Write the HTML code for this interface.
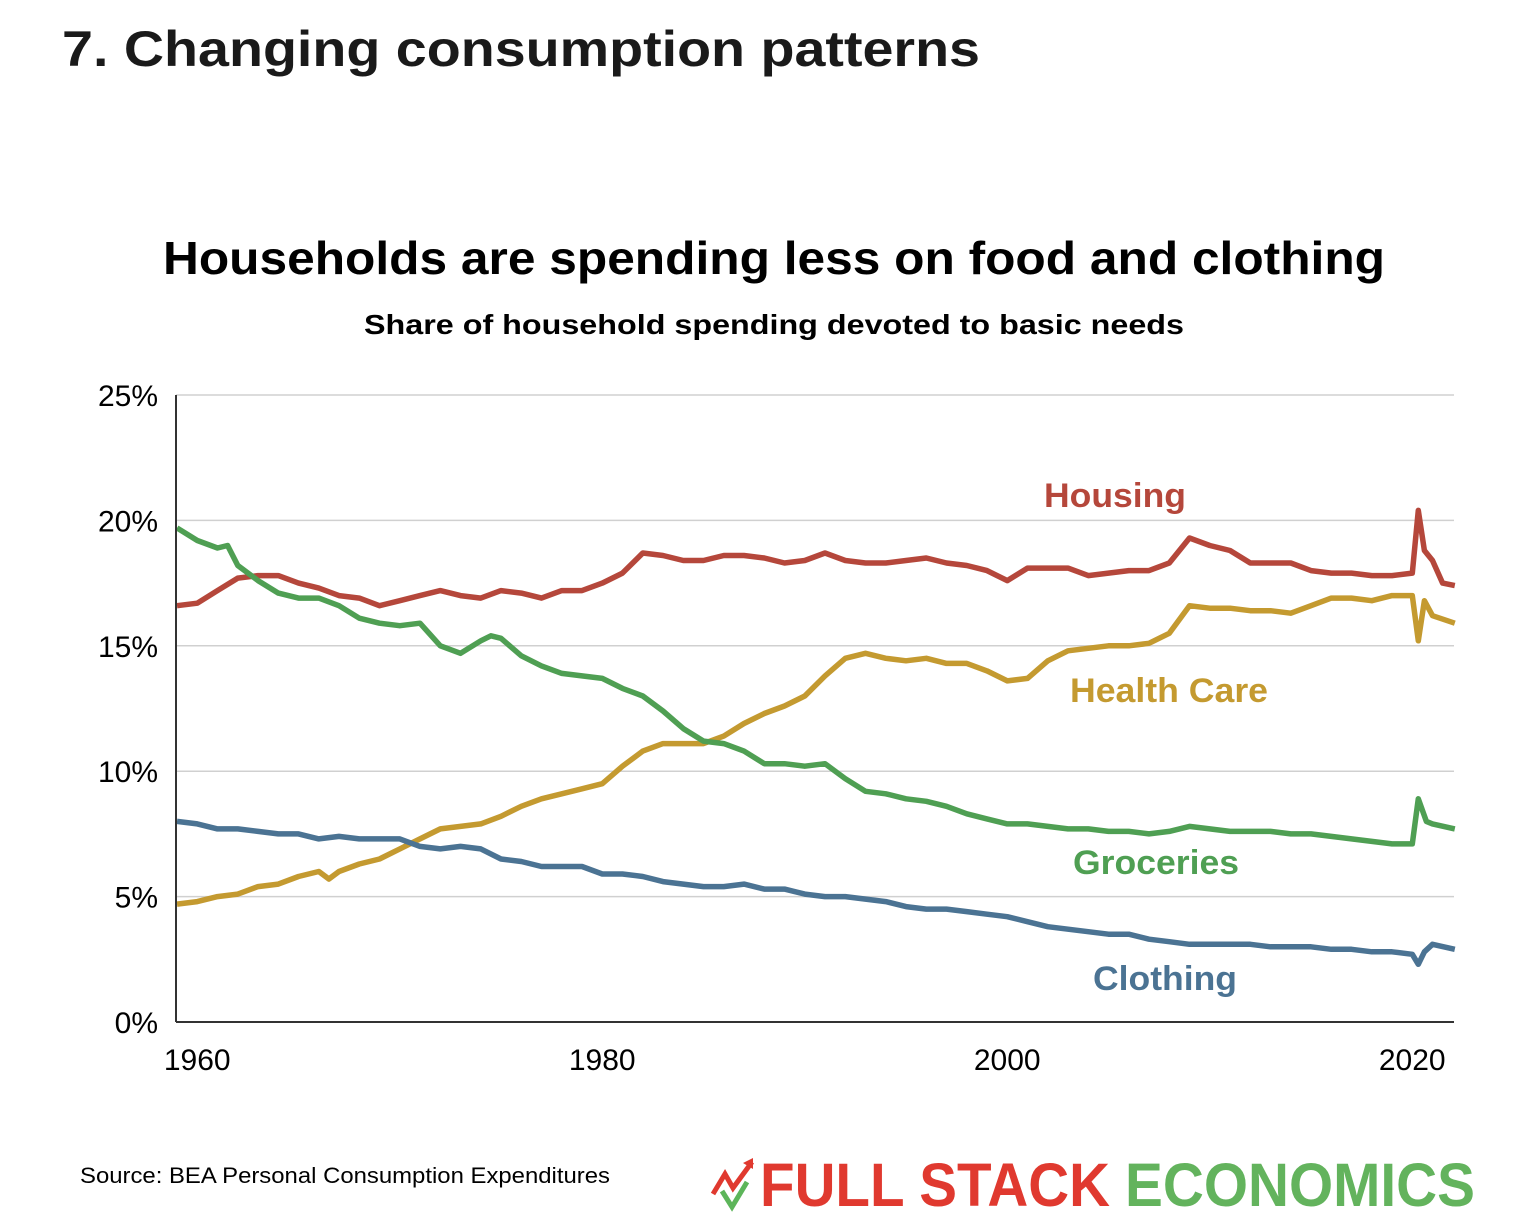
<!DOCTYPE html>
<html><head><meta charset="utf-8"><style>
html,body{margin:0;padding:0;background:#fff;}
svg{display:block;}
</style></head><body>
<svg id="chart" width="1524" height="1232" viewBox="0 0 1524 1232" xmlns="http://www.w3.org/2000/svg" font-family="Liberation Sans, sans-serif">
<text x="62" y="66" font-size="50" font-weight="bold" fill="#1a1a1a" textLength="918" lengthAdjust="spacingAndGlyphs">7. Changing consumption patterns</text>
<text x="774" y="274" text-anchor="middle" font-size="46" font-weight="bold" fill="#000" textLength="1222" lengthAdjust="spacingAndGlyphs">Households are spending less on food and clothing</text>
<text x="774" y="334" text-anchor="middle" font-size="28" font-weight="bold" fill="#000" textLength="820" lengthAdjust="spacingAndGlyphs">Share of household spending devoted to basic needs</text>
<g id="grid"></g>
<g id="yticks"></g>
<g id="xticks"></g>
<g id="lines"></g>
<line x1="176" y1="395" x2="176" y2="1022" stroke="#333" stroke-width="2"/>
<line x1="176" y1="1022" x2="1454" y2="1022" stroke="#333" stroke-width="2"/>
<text x="1115" y="507" text-anchor="middle" font-size="34" font-weight="bold" fill="#b5473b" textLength="142" lengthAdjust="spacingAndGlyphs">Housing</text>
<text x="1169" y="702" text-anchor="middle" font-size="34" font-weight="bold" fill="#c49a30" textLength="198" lengthAdjust="spacingAndGlyphs">Health Care</text>
<text x="1156" y="874" text-anchor="middle" font-size="34" font-weight="bold" fill="#4f9f53" textLength="166" lengthAdjust="spacingAndGlyphs">Groceries</text>
<text x="1165" y="990" text-anchor="middle" font-size="34" font-weight="bold" fill="#4b7393" textLength="144" lengthAdjust="spacingAndGlyphs">Clothing</text>
<text x="80" y="1183" font-size="22" fill="#000" textLength="530" lengthAdjust="spacingAndGlyphs">Source: BEA Personal Consumption Expenditures</text>
<g>
<polyline points="713,1194 725,1174 733,1188 752,1162" fill="none" stroke="#e0392f" stroke-width="5"/>
<polygon points="743,1163 753,1158 753,1169" fill="#e0392f"/>
<polyline points="722,1191 732,1207 747,1182" fill="none" stroke="#5db55a" stroke-width="5"/>
<text x="760" y="1206" font-size="61" font-weight="bold" fill="#e0392f" textLength="350" lengthAdjust="spacingAndGlyphs">FULL STACK</text>
<text x="1125" y="1206" font-size="61" font-weight="bold" fill="#63b35d" textLength="350" lengthAdjust="spacingAndGlyphs">ECONOMICS</text>
</g>
</svg>
<script>
const yTickValues = [0, 5, 10, 15, 20, 25];
const yTickLabels = ["0%", "5%", "10%", "15%", "20%", "25%"];
const xTickValues = [1960, 1980, 2000, 2020];
const xTickLabels = ["1960", "1980", "2000", "2020"];

const housingYears = [1959,1960,1961,1962,1963,1964,1965,1966,1967,1968,1969,1970,1971,1972,1973,1974,1975,1976,1977,1978,1979,1980,1981,1982,1983,1984,1985,1986,1987,1988,1989,1990,1991,1992,1993,1994,1995,1996,1997,1998,1999,2000,2001,2002,2003,2004,2005,2006,2007,2008,2009,2010,2011,2012,2013,2014,2015,2016,2017,2018,2019,2020,2020.3,2020.6,2021,2021.5,2022.1];
const housingValues = [16.6,16.7,17.2,17.7,17.8,17.8,17.5,17.3,17.0,16.9,16.6,16.8,17.0,17.2,17.0,16.9,17.2,17.1,16.9,17.2,17.2,17.5,17.9,18.7,18.6,18.4,18.4,18.6,18.6,18.5,18.3,18.4,18.7,18.4,18.3,18.3,18.4,18.5,18.3,18.2,18.0,17.6,18.1,18.1,18.1,17.8,17.9,18.0,18.0,18.3,19.3,19.0,18.8,18.3,18.3,18.3,18.0,17.9,17.9,17.8,17.8,17.9,20.4,18.8,18.4,17.5,17.4];

const healthYears = [1959,1960,1961,1962,1963,1964,1965,1966,1966.5,1967,1968,1969,1970,1971,1972,1973,1974,1975,1976,1977,1978,1979,1980,1981,1982,1983,1984,1985,1986,1987,1988,1989,1990,1991,1992,1993,1994,1995,1996,1997,1998,1999,2000,2001,2002,2003,2004,2005,2006,2007,2008,2009,2010,2011,2012,2013,2014,2015,2016,2017,2018,2019,2020,2020.3,2020.6,2021,2022.1];
const healthValues = [4.7,4.8,5.0,5.1,5.4,5.5,5.8,6.0,5.7,6.0,6.3,6.5,6.9,7.3,7.7,7.8,7.9,8.2,8.6,8.9,9.1,9.3,9.5,10.2,10.8,11.1,11.1,11.1,11.4,11.9,12.3,12.6,13.0,13.8,14.5,14.7,14.5,14.4,14.5,14.3,14.3,14.0,13.6,13.7,14.4,14.8,14.9,15.0,15.0,15.1,15.5,16.6,16.5,16.5,16.4,16.4,16.3,16.6,16.9,16.9,16.8,17.0,17.0,15.2,16.8,16.2,15.9];

const groceryYears = [1959,1960,1961,1961.5,1962,1963,1964,1965,1966,1967,1968,1969,1970,1971,1972,1973,1974,1974.5,1975,1976,1977,1978,1979,1980,1981,1982,1983,1984,1985,1986,1987,1988,1989,1990,1991,1992,1993,1994,1995,1996,1997,1998,1999,2000,2001,2002,2003,2004,2005,2006,2007,2008,2009,2010,2011,2012,2013,2014,2015,2016,2017,2018,2019,2020,2020.3,2020.7,2021,2022.1];
const groceryValues = [19.7,19.2,18.9,19.0,18.2,17.6,17.1,16.9,16.9,16.6,16.1,15.9,15.8,15.9,15.0,14.7,15.2,15.4,15.3,14.6,14.2,13.9,13.8,13.7,13.3,13.0,12.4,11.7,11.2,11.1,10.8,10.3,10.3,10.2,10.3,9.7,9.2,9.1,8.9,8.8,8.6,8.3,8.1,7.9,7.9,7.8,7.7,7.7,7.6,7.6,7.5,7.6,7.8,7.7,7.6,7.6,7.6,7.5,7.5,7.4,7.3,7.2,7.1,7.1,8.9,8.0,7.9,7.7];

const clothingYears = [1959,1960,1961,1962,1963,1964,1965,1966,1967,1968,1969,1970,1971,1972,1973,1974,1975,1976,1977,1978,1979,1980,1981,1982,1983,1984,1985,1986,1987,1988,1989,1990,1991,1992,1993,1994,1995,1996,1997,1998,1999,2000,2001,2002,2003,2004,2005,2006,2007,2008,2009,2010,2011,2012,2013,2014,2015,2016,2017,2018,2019,2020,2020.3,2020.6,2021,2022.1];
const clothingValues = [8.0,7.9,7.7,7.7,7.6,7.5,7.5,7.3,7.4,7.3,7.3,7.3,7.0,6.9,7.0,6.9,6.5,6.4,6.2,6.2,6.2,5.9,5.9,5.8,5.6,5.5,5.4,5.4,5.5,5.3,5.3,5.1,5.0,5.0,4.9,4.8,4.6,4.5,4.5,4.4,4.3,4.2,4.0,3.8,3.7,3.6,3.5,3.5,3.3,3.2,3.1,3.1,3.1,3.1,3.0,3.0,3.0,2.9,2.9,2.8,2.8,2.7,2.3,2.8,3.1,2.9];

const NS = "http://www.w3.org/2000/svg";
function xScale(year){ return 177 + (year - 1959) * 20.25; }
function yScale(v){ return 1022 - v * 25.08; }

const grid = document.getElementById('grid');
const yt = document.getElementById('yticks');
yTickValues.forEach((v, i) => {
  if (v > 0) {
    const l = document.createElementNS(NS, 'line');
    
    
    l.setAttribute('x1', 176); l.setAttribute('x2', 1454);
    l.setAttribute('y1', yScale(v)); l.setAttribute('y2', yScale(v));
    l.setAttribute('stroke', '#d0d0d0'); l.setAttribute('stroke-width', '1.5');
    grid.appendChild(l);
  }
  const t = document.createElementNS(NS, 'text');
  
  
  t.setAttribute('x', 158); t.setAttribute('y', yScale(v) + 11);
  t.setAttribute('text-anchor', 'end'); t.setAttribute('font-size', '30');
  t.textContent = yTickLabels[i];
  yt.appendChild(t);
});
const xt = document.getElementById('xticks');
xTickValues.forEach((v, i) => {
  const t = document.createElementNS(NS, 'text');
  
  
  t.setAttribute('x', xScale(v)); t.setAttribute('y', 1070);
  t.setAttribute('text-anchor', 'middle'); t.setAttribute('font-size', '30');
  t.textContent = xTickLabels[i];
  xt.appendChild(t);
});

const lines = document.getElementById('lines');
function drawLine(years, vals, color, name){
  const p = document.createElementNS(NS, 'polyline');
  
  
  p.setAttribute('points', years.map((y, i) => xScale(y).toFixed(1) + ',' + yScale(vals[i]).toFixed(1)).join(' '));
  p.setAttribute('fill', 'none'); p.setAttribute('stroke', color);
  p.setAttribute('stroke-width', '5.5'); p.setAttribute('stroke-linejoin', 'round');
  lines.appendChild(p);
}
drawLine(housingYears, housingValues, '#b5473b', 'housing-line');
drawLine(healthYears, healthValues, '#c49a30', 'health-care-line');
drawLine(groceryYears, groceryValues, '#4f9f53', 'groceries-line');
drawLine(clothingYears, clothingValues, '#4b7393', 'clothing-line');
</script>
</body></html>
